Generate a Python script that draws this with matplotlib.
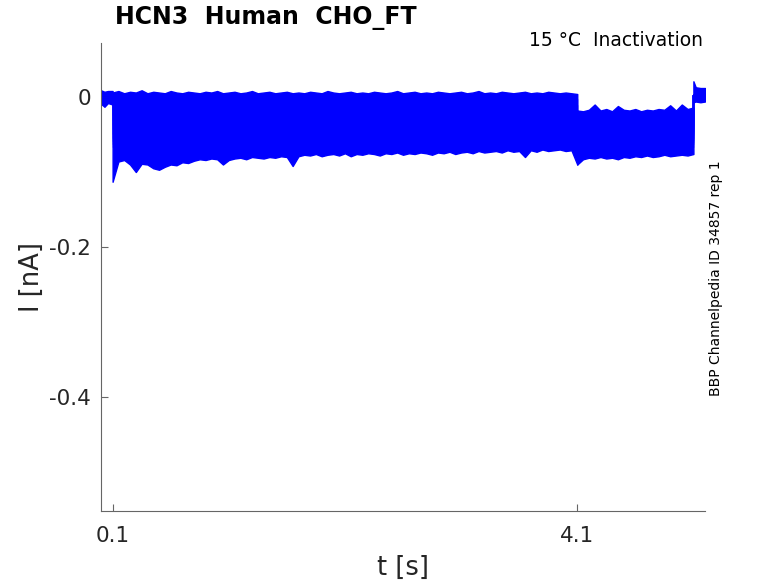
import numpy as np
from matplotlib import pyplot as plt

plt.rcParams['font.family'] = ['DejaVu Sans']
plt.rcParams['axes.unicode_minus'] = False

# protocol segment boundaries (s)
t_start, t_test, t_post, t_back, t_end = 0.0, 0.1, 4.1, 5.1, 5.2

# mean current of each sweep (nA) during the test pulse and the post pulse
test_levels = [-0.003, -0.010, -0.017, -0.024, -0.031, -0.037, -0.043,
               -0.049, -0.054, -0.059, -0.063, -0.067]
post_levels = [-0.028, -0.033, -0.037, -0.041, -0.045, -0.048, -0.051,
               -0.054, -0.057, -0.060, -0.063, -0.066]
base_level = 0.0
back_level = 0.003

# envelope of all sweeps (nA), read every 0.05 s
test_t = np.round(np.arange(0.10, 4.101, 0.05), 2)
test_low = [-0.113, -0.086, -0.084, -0.090, -0.100, -0.089, -0.090, -0.095, -0.097, -0.093,
            -0.090, -0.091, -0.087, -0.088, -0.085, -0.083, -0.084, -0.082, -0.083, -0.090,
            -0.084, -0.082, -0.081, -0.083, -0.080, -0.081, -0.082, -0.080, -0.081, -0.079,
            -0.080, -0.092, -0.079, -0.077, -0.078, -0.076, -0.079, -0.077, -0.076, -0.078,
            -0.075, -0.079, -0.076, -0.077, -0.075, -0.076, -0.078, -0.075, -0.076, -0.074,
            -0.077, -0.075, -0.076, -0.074, -0.075, -0.077, -0.074, -0.075, -0.073, -0.076,
            -0.074, -0.073, -0.075, -0.072, -0.074, -0.073, -0.072, -0.074, -0.071, -0.073,
            -0.072, -0.080, -0.071, -0.073, -0.070, -0.072, -0.071, -0.070, -0.072, -0.071,
            -0.090]
test_high = [0.006, 0.008, 0.005, 0.007, 0.006, 0.009, 0.005, 0.007, 0.006, 0.005,
             0.008, 0.006, 0.005, 0.007, 0.006, 0.005, 0.007, 0.006, 0.008, 0.005,
             0.006, 0.007, 0.005, 0.006, 0.008, 0.005, 0.006, 0.007, 0.005, 0.006,
             0.007, 0.005, 0.006, 0.005, 0.007, 0.006, 0.005, 0.008, 0.006, 0.005,
             0.006, 0.007, 0.005, 0.006, 0.005, 0.007, 0.006, 0.005, 0.006, 0.008,
             0.005, 0.006, 0.007, 0.005, 0.006, 0.005, 0.007, 0.006, 0.005, 0.006,
             0.007, 0.005, 0.006, 0.008, 0.005, 0.006, 0.005, 0.007, 0.006, 0.005,
             0.006, 0.007, 0.005, 0.006, 0.005, 0.007, 0.006, 0.005, 0.006, 0.005,
             0.004]
post_t = np.round(np.arange(4.10, 5.101, 0.05), 2)
post_low = [-0.090, -0.083, -0.081, -0.082, -0.080, -0.082, -0.081, -0.083, -0.080, -0.081,
            -0.079, -0.080, -0.078, -0.080, -0.079, -0.077, -0.079, -0.078, -0.077, -0.078,
            -0.076]
post_high = [-0.018, -0.019, -0.017, -0.010, -0.018, -0.016, -0.019, -0.012, -0.017, -0.018,
             -0.016, -0.019, -0.017, -0.018, -0.016, -0.017, -0.011, -0.018, -0.010, -0.016,
             -0.014]
base_t = [0.0, 0.03, 0.06, 0.1]
base_low = [-0.009, -0.013, -0.008, -0.010]
base_high = [0.009, 0.007, 0.008, 0.008]
back_t = [5.1, 5.12, 5.16, 5.2]
back_low = [-0.007, -0.006, -0.007, -0.006]
back_high = [0.021, 0.013, 0.012, 0.012]

blue = '#0000ff'
dark = '#262626'

fig, ax = plt.subplots(figsize=(7.78, 5.83), dpi=100)
fig.subplots_adjust(left=0.1298, right=0.9062, bottom=0.1235, top=0.9262)

for seg_t, low, high in [(base_t, base_low, base_high),
                         (test_t, test_low, test_high),
                         (post_t, post_low, post_high),
                         (back_t, back_low, back_high)]:
    ax.fill_between(seg_t, low, high, color=blue, lw=1.0, edgecolor=blue)

for lv_test, lv_post in zip(test_levels, post_levels):
    ax.plot([t_start, t_test, t_test, t_post, t_post, t_back, t_back, t_end],
            [base_level, base_level, lv_test, lv_test, lv_post, lv_post, back_level, back_level],
            color=blue, lw=1)

ax.set_xlim(0.0, 5.2)
ax.set_ylim(-0.552, 0.072)
ax.set_xticks([0.1, 4.1])
ax.set_xticklabels(['0.1', '4.1'])
ax.set_yticks([-0.4, -0.2, 0])
ax.set_yticklabels(['-0.4', '-0.2', '0'])

for side in ['top', 'right']:
    ax.spines[side].set_visible(False)
for side in ['left', 'bottom']:
    ax.spines[side].set_color('0.4')
ax.tick_params(direction='in', length=5, colors='0.4', labelcolor=dark, labelsize=15.5)
ax.tick_params(axis='x', pad=11)
ax.tick_params(axis='y', pad=7)

ax.set_xlabel('t [s]', fontsize=18.5, color=dark, labelpad=6)
ax.set_ylabel('I [nA]', fontsize=18.5, color=dark, labelpad=3)

fig.text(115 / 778, 1 - 18 / 583, 'HCN3  Human  CHO_FT', fontsize=17, fontweight='bold',
         ha='left', va='center')
fig.text(703 / 778, 1 - 41 / 583, '15 °C  Inactivation', fontsize=13.5,
         ha='right', va='center')
fig.text(716 / 778, 1 - 278 / 583, 'BBP Channelpedia ID 34857 rep 1', fontsize=10,
         rotation=90, ha='center', va='center')

fig.savefig('out.png', dpi=100)
